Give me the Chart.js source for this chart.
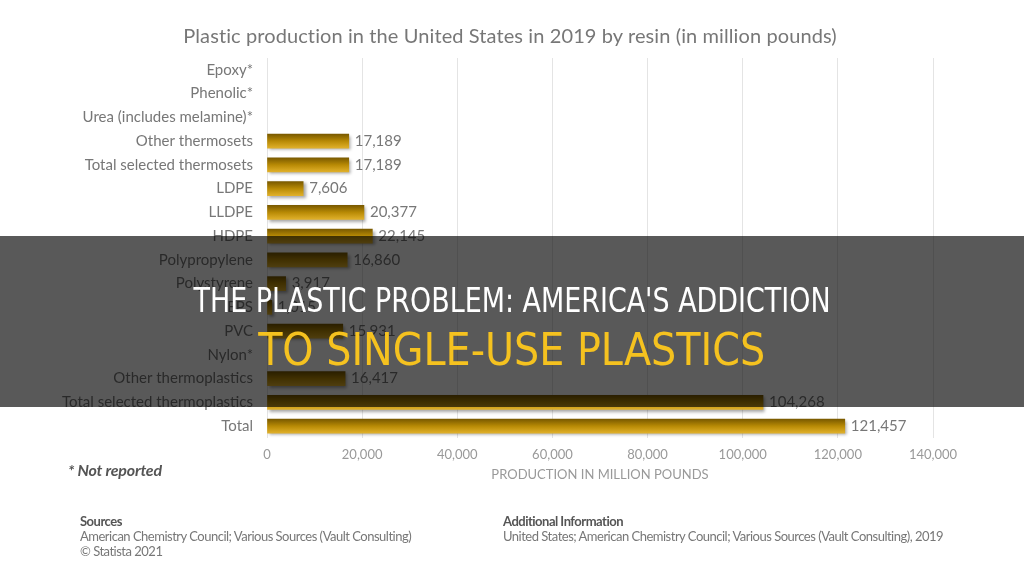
<!DOCTYPE html>
<html>
<head>
<meta charset="utf-8">
<script src="https://cdn.jsdelivr.net/npm/chart.js@4.4.1/dist/chart.umd.min.js"></script>
<style>
  body { margin: 0; background: #fff; }
  #wrap { position: relative; width: 1024px; height: 576px; overflow: hidden; font-family: Lato, sans-serif; }
  #grafico { position: absolute; left: 0; top: 0; }
  .txt { position: absolute; white-space: nowrap; }
  #titulo { left: 0; width: 1020px; top: 23px; text-align: center; font-size: 20px; letter-spacing: 0.1px; color: #777; }
  #nota { left: 68px; top: 460px; font-size: 16px; font-style: italic; font-weight: bold; color: #555; letter-spacing: -0.2px; }
  .rodape { font-size: 13px; color: #777; letter-spacing: -0.5px; line-height: 15px; }
  .rodape b { color: #555; }
  #faixa { position: absolute; left: 0; top: 236px; width: 1024px; height: 171px; background: rgba(0, 0, 0, 0.65); }
  .manchete { position: absolute; left: 0; width: 1024px; text-align: center; font-family: "Liberation Sans Narrow", "DejaVu Sans Condensed", Roboto, sans-serif; }
  .manchete span { display: inline-block; transform-origin: center; }
  #linha1 { top: 281px; font-size: 33px; color: #fff; }
  #linha2 { top: 323px; font-size: 45px; color: #f5c21f; }
</style>
</head>
<body>
<div id="wrap">
  <canvas id="grafico" width="1024" height="576"></canvas>
  <div class="txt" id="titulo">Plastic production in the United States in 2019 by resin (in million pounds)</div>
  <div class="txt" id="nota">* Not reported</div>
  <div class="txt rodape" style="left:80px; top:514px;"><b>Sources</b><br>American Chemistry Council; Various Sources (Vault Consulting)<br>© Statista 2021</div>
  <div class="txt rodape" style="left:503px; top:514px;"><b>Additional Information</b><br>United States; American Chemistry Council; Various Sources (Vault Consulting), 2019</div>
  <div id="faixa"></div>
  <div class="manchete" id="linha1"><span data-w="637">THE PLASTIC PROBLEM: AMERICA'S ADDICTION</span></div>
  <div class="manchete" id="linha2"><span data-w="507">TO SINGLE-USE PLASTICS</span></div>
</div>
<script>
// resinas e valores (milhões de libras), null = não reportado
const resinas = [
    'Epoxy*', 'Phenolic*', 'Urea (includes melamine)*', 'Other thermosets',
    'Total selected thermosets', 'LDPE', 'LLDPE', 'HDPE', 'Polypropylene',
    'Polystyrene', 'EPS', 'PVC', 'Nylon*', 'Other thermoplastics',
    'Total selected thermoplastics', 'Total'
];
const producao = [
    null, null, null, 17189,
    17189, 7606, 20377, 22145, 16860,
    3917, 1015, 15931, null, 16417,
    104268, 121457
];
const ticksX = [0, 20000, 40000, 60000, 80000, 100000, 120000, 140000];

// ajusta a largura das manchetes
document.querySelectorAll('.manchete span').forEach(s => {
    const alvo = Number(s.dataset.w);
    const w = s.getBoundingClientRect().width;
    s.style.transform = 'scaleX(' + (alvo / w) + ')';
});

const sombra = {
    id: 'sombra',
    beforeDatasetDraw(chart) {
        const ctx = chart.ctx;
        ctx.save();
        ctx.shadowColor = 'rgba(0,0,0,0.35)';
        ctx.shadowOffsetX = 2;
        ctx.shadowOffsetY = 2;
        ctx.shadowBlur = 3;
    },
    afterDatasetDraw(chart) {
        chart.ctx.restore();
    }
};

const rotulos = {
    id: 'rotulos',
    afterDatasetsDraw(chart) {
        const ctx = chart.ctx;
        const meta = chart.getDatasetMeta(0);
        ctx.save();
        ctx.font = '15px Lato';
        ctx.fillStyle = '#777';
        ctx.textBaseline = 'middle';
        meta.data.forEach((el, i) => {
            const v = producao[i];
            if (v == null) return;
            ctx.fillText(v.toLocaleString('en-US'), el.x + 6, el.y);
        });
        ctx.restore();
    }
};

function corBarra(c) {
    const chart = c.chart;
    const y = chart.scales.y;
    if (!y || !chart.chartArea) return '#c8960a';
    const py = y.getPixelForValue(c.dataIndex);
    const g = chart.ctx.createLinearGradient(0, py - 7, 0, py + 7);
    g.addColorStop(0, '#7a5a00');
    g.addColorStop(0.5, '#b88a05');
    g.addColorStop(1, '#e0b02a');
    return g;
}

new Chart(document.getElementById('grafico'), {
    type: 'bar',
    data: {
        labels: resinas,
        datasets: [{
            data: producao,
            backgroundColor: corBarra,
            barThickness: 14
        }]
    },
    options: {
        indexAxis: 'y',
        responsive: false,
        animation: false,
        devicePixelRatio: 1,
        layout: { padding: { top: 58, left: 0, right: 91, bottom: 93 } },
        plugins: {
            legend: { display: false },
            tooltip: { enabled: false },
            title: { display: false }
        },
        scales: {
            x: {
                min: 0,
                max: 140000,
                afterBuildTicks(axis) { axis.ticks = ticksX.map(v => ({ value: v })); },
                afterFit(axis) { axis.height = 45; },
                grid: { color: '#e4e4e4', drawTicks: false },
                border: { display: false },
                ticks: {
                    padding: 9,
                    color: '#999',
                    font: { family: 'Lato', size: 13 },
                    callback: v => v.toLocaleString('en-US')
                },
                title: {
                    display: true,
                    text: 'PRODUCTION IN MILLION POUNDS',
                    color: '#999',
                    font: { family: 'Lato', size: 13 },
                    padding: { top: 2, bottom: 0 }
                }
            },
            y: {
                afterFit(axis) { axis.width = 267; },
                grid: { display: false },
                border: { display: false },
                ticks: {
                    padding: 6,
                    color: '#777',
                    font: { family: 'Lato', size: 15 }
                }
            }
        }
    },
    plugins: [sombra, rotulos]
});
</script>
</body>
</html>
